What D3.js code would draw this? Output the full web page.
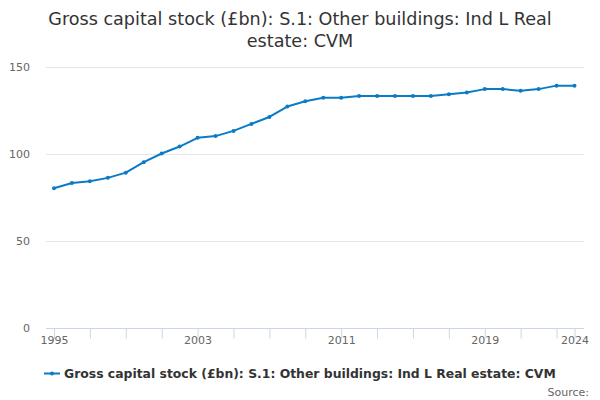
<!DOCTYPE html>
<html>
<head>
<meta charset="utf-8">
<script src="https://cdn.jsdelivr.net/npm/d3@7"></script>
<style>
  body { margin: 0; background: #fff; }
  svg { display: block; font-family: "DejaVu Sans", Verdana, sans-serif; }
</style>
</head>
<body>
<svg id="chart" width="600" height="400"></svg>
<script>
const titleLines = ["Gross capital stock (£bn): S.1: Other buildings: Ind L Real", "estate: CVM"];
const seriesName = "Gross capital stock (£bn): S.1: Other buildings: Ind L Real estate: CVM";
const years = [1995,1996,1997,1998,1999,2000,2001,2002,2003,2004,2005,2006,2007,2008,2009,2010,2011,2012,2013,2014,2015,2016,2017,2018,2019,2020,2021,2022,2023,2024];
const values = [80,83,84,86,89,95,100,104,109,110,113,117,121,127,130,132,132,133,133,133,133,133,134,135,137,137,136,137,139,139];
const yTicks = [0,50,100,150];
const xTickMarks = [1995,1997,1999,2001,2003,2005,2007,2009,2011,2013,2015,2017,2019,2021,2023,2024];
const xTickLabels = [1995,2003,2011,2019,2024];

(function () {
const svg = d3.select("#chart");
const plotLeft = 46, plotRight = 584, plotTop = 66.5, plotBottom = 327.5;
const color = "#0a7bc4";

const x = d3.scaleLinear().domain([1995, 2024]).range([54, 574.5]);
const y = d3.scaleLinear().domain([0, 150]).range([plotBottom, plotTop]);

// title
const title = svg.append("text").attr("text-anchor", "middle").attr("fill", "#333").style("font-size", "17.6px");
titleLines.forEach((t, i) => title.append("tspan").attr("x", 300).attr("y", 25 + i * 22).text(t));

// grid
svg.append("g").selectAll("line").data(yTicks.filter(d => d > 0)).join("line")
  .attr("x1", plotLeft).attr("x2", plotRight)
  .attr("y1", d => Math.round(y(d)) + 0.5).attr("y2", d => Math.round(y(d)) + 0.5)
  .attr("stroke", "#e6e6e6").attr("stroke-width", 1);

// y labels
svg.append("g").selectAll("text").data(yTicks).join("text")
  .attr("x", 30).attr("y", d => y(d) + 4)
  .attr("text-anchor", "end").attr("fill", "#666").style("font-size", "11px")
  .text(d => d);

// x axis
const xAxis = d3.axisBottom(x).tickValues(xTickMarks).tickSize(10).tickFormat(d => xTickLabels.includes(d) ? d : "");
const gx = svg.append("g").attr("transform", `translate(0,${Math.round(plotBottom) + 0.5})`).call(xAxis);
gx.select(".domain").remove();
gx.append("line").attr("x1", plotLeft).attr("x2", plotRight).attr("stroke", "#ccd6eb");
gx.selectAll(".tick line").attr("stroke", "#ccd6eb");
gx.selectAll(".tick text").attr("fill", "#666").style("font-size", "11px")
  .style("font-family", "DejaVu Sans, Verdana, sans-serif").attr("dy", "0.2em");

// line
const data = years.map((yr, i) => ({yr, v: values[i]}));
svg.append("path").datum(data)
  .attr("fill", "none").attr("stroke", color).attr("stroke-width", 2)
  .attr("stroke-linejoin", "round").attr("stroke-linecap", "round")
  .attr("d", d3.line().x(d => x(d.yr)).y(d => y(d.v)));
svg.append("g").selectAll("circle").data(data).join("circle")
  .attr("cx", d => x(d.yr)).attr("cy", d => y(d.v)).attr("r", 2).attr("fill", color);

// legend
const lg = svg.append("g");
lg.append("line").attr("x1", 44).attr("x2", 60).attr("y1", 373.5).attr("y2", 373.5).attr("stroke", color).attr("stroke-width", 2);
lg.append("circle").attr("cx", 52).attr("cy", 373.5).attr("r", 2).attr("fill", color);
lg.append("text").attr("x", 64).attr("y", 378).attr("fill", "#333").style("font-size", "12.4px").style("font-weight", "bold").text(seriesName);

// source
svg.append("text").attr("x", 589).attr("y", 396).attr("text-anchor", "end").attr("fill", "#666").style("font-size", "11px").text("Source:");
})();
</script>
</body>
</html>
